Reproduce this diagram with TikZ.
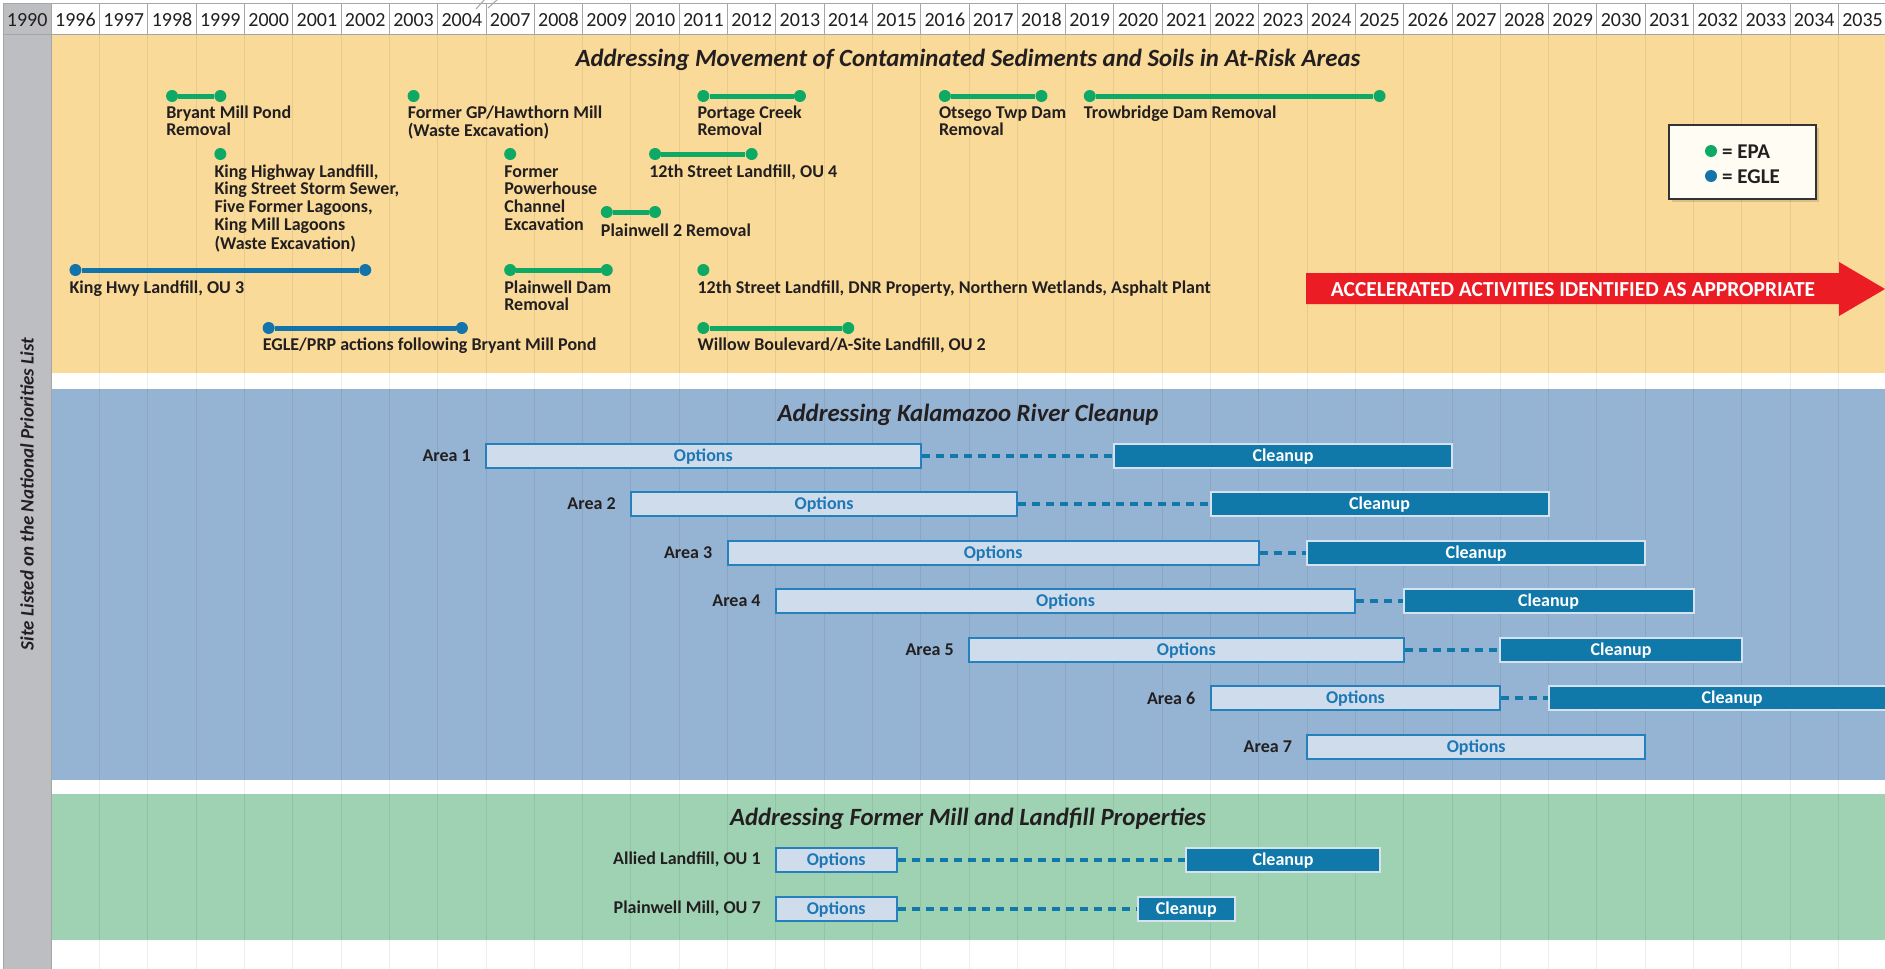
\documentclass[tikz,border=0pt]{standalone}
\usepackage{fontspec}
\setmainfont{Carlito}
\definecolor{yband}{HTML}{F9DA98}
\definecolor{bband}{HTML}{95B3D2}
\definecolor{gband}{HTML}{9ED2B3}
\definecolor{graycol}{HTML}{BDBEC2}
\definecolor{hdrline}{HTML}{A6A6A6}
\definecolor{epa}{HTML}{0EA965}
\definecolor{egle}{HTML}{1374AC}
\definecolor{optfill}{HTML}{CEDCEB}
\definecolor{optline}{HTML}{2580BE}
\definecolor{opttext}{HTML}{1F78B6}
\definecolor{clnfill}{HTML}{1178AA}
\definecolor{clnline}{HTML}{D6E2EE}
\definecolor{dashcol}{HTML}{1178AA}
\definecolor{arrowred}{HTML}{EC1C24}
\definecolor{ink}{HTML}{231F20}
\definecolor{legfill}{HTML}{FFFDF3}
\definecolor{legline}{HTML}{333333}
\newcommand\lblfont{\bfseries\fontsize{18}{17.3}\selectfont}
\newcommand\boxfont{\bfseries\fontsize{18}{18}\selectfont}
\newcommand\titlefont{\bfseries\itshape\fontsize{24.8}{26}\selectfont}
\newcommand\yearfont{\fontsize{20}{20}\selectfont}
\newcommand\vfont{\bfseries\itshape\fontsize{19}{19}\selectfont}
\newcommand\legfont{\bfseries\fontsize{21}{21}\selectfont}
\newcommand\arrfont{\bfseries\fontsize{21.4}{21.4}\selectfont}
\newcommand\ml[1]{\begin{tabular}[t]{@{}l@{}}#1\end{tabular}}
\newcommand\bbox[6]{%
  \pgfmathsetmacro\bx{3+48.3*((#3)+(#4))/2}%
  \pgfmathsetmacro\bw{48.3*((#4)-(#3))}%
  \node[#1, minimum width=\bw pt] (#2) at (\bx,#5) {#6};}
\tikzset{
  lbl/.style={font=\lblfont, text=ink, anchor=base west, inner sep=0pt, xshift=-6pt},
  dotepa/.style={circle, fill=epa, inner sep=0pt, minimum size=12pt},
  dotegle/.style={circle, fill=egle, inner sep=0pt, minimum size=12pt},
  lineepa/.style={draw=epa, line width=5pt},
  lineegle/.style={draw=egle, line width=5pt},
  optbox/.style={draw=optline, fill=optfill, line width=2pt, minimum height=24pt, inner sep=0pt, text=opttext, font=\boxfont, text height=11.5pt, text depth=0pt},
  clnbox/.style={draw=clnline, fill=clnfill, line width=2pt, minimum height=24pt, inner sep=0pt, text=white, font=\boxfont, text height=11.5pt, text depth=0pt},
  dashline/.style={draw=dashcol, line width=4pt, dash pattern=on 8pt off 6pt},
  arealbl/.style={font=\lblfont, text=ink, anchor=east, inner sep=0pt},
  bandtitle/.style={font=\titlefont, text=ink, anchor=base, inner sep=0pt},
  yearlbl/.style={font=\yearfont, text=ink, anchor=base, inner sep=0pt},
  legtext/.style={font=\legfont, text=ink, anchor=base west, inner sep=0pt},
  gridline/.style={draw=black, opacity=0.07, line width=1pt},
  cellline/.style={draw=hdrline, line width=1pt}
}
\begin{document}
\begin{tikzpicture}[x=1pt,y=-1pt, declare function={cx(\k)=3+48.3*\k;}]
\useasboundingbox (0,0) rectangle (1885,969);
\clip (0,0) rectangle (1885,969);
\fill[white] (0,0) rectangle (1885,969);
% bands
\fill[yband] (51.3,34) rectangle (1885,373);
\fill[bband] (51.3,389) rectangle (1885,780);
\fill[gband] (51.3,794) rectangle (1885,940);
% grid
\foreach \k in {2,...,38} \draw[gridline] ({cx(\k)},34) -- ({cx(\k)},969);
% gray column
\filldraw[fill=graycol, draw=hdrline, line width=1pt] (3,3) rectangle (51.3,969);
% header
\foreach \yr [count=\k from 0] in {1990,1996,1997,1998,1999,2000,2001,2002,2003,2004,2007,2008,2009,2010,2011,2012,2013,2014,2015,2016,2017,2018,2019,2020,2021,2022,2023,2024,2025,2026,2027,2028,2029,2030,2031,2032,2033,2034,2035} {
  \draw[cellline] ({cx(\k)},3) rectangle ({cx(\k+1)},34);
  \node[yearlbl] (h\k) at ({cx(\k+0.5)},27) {\yr};
}
\draw[cellline] (476,9) -- (485,-1);
\draw[cellline] (488,8) -- (498,-1);
% titles
\node[bandtitle] (t1) at (968,66) {Addressing Movement of Contaminated Sediments and Soils in At-Risk Areas};
\node[bandtitle] (t2) at (968,421) {Addressing Kalamazoo River Cleanup};
\node[bandtitle] (t3) at (968,825) {Addressing Former Mill and Landfill Properties};
\node[rotate=90, font=\vfont, text=ink, inner sep=0pt] (side) at (27,494) {Site Listed on the National Priorities List};
% ---- yellow band items
\node[dotepa] (a1) at ({cx(3.5)},96) {};
\node[dotepa] (a2) at ({cx(4.5)},96) {};
\draw[lineepa] (a1) -- (a2);
\node[lbl] (ta) at ({cx(3.5)},118) {\ml{Bryant Mill Pond\\Removal}};
\node[dotepa] (b1) at ({cx(8.5)},96) {};
\node[lbl] (tb) at ({cx(8.5)},118) {\ml{Former GP/Hawthorn Mill\\(Waste Excavation)}};
\node[dotepa] (c1d) at ({cx(14.5)},96) {};
\node[dotepa] (c2d) at ({cx(16.5)},96) {};
\draw[lineepa] (c1d) -- (c2d);
\node[lbl] (tc) at ({cx(14.5)},118) {\ml{Portage Creek\\Removal}};
\node[dotepa] (d1) at ({cx(19.5)},96) {};
\node[dotepa] (d2) at ({cx(21.5)},96) {};
\draw[lineepa] (d1) -- (d2);
\node[lbl] (td) at ({cx(19.5)},118) {\ml{Otsego Twp Dam\\Removal}};
\node[dotepa] (e1) at ({cx(22.5)},96) {};
\node[dotepa] (e2) at ({cx(28.5)},96) {};
\draw[lineepa] (e1) -- (e2);
\node[lbl] (te) at ({cx(22.5)},118) {\ml{Trowbridge Dam Removal}};
\node[dotepa] (f1) at ({cx(4.5)},154) {};
\node[lbl] (tf) at ({cx(4.5)},177) {\ml{King Highway Landfill,\\King Street Storm Sewer,\\Five Former Lagoons,\\King Mill Lagoons\\(Waste Excavation)}};
\node[dotepa] (g1) at ({cx(10.5)},154) {};
\node[lbl] (tg) at ({cx(10.5)},177) {\ml{Former\\Powerhouse\\Channel\\Excavation}};
\node[dotepa] (h1d) at ({cx(13.5)},154) {};
\node[dotepa] (h2d) at ({cx(15.5)},154) {};
\draw[lineepa] (h1d) -- (h2d);
\node[lbl] (th) at ({cx(13.5)},177) {\ml{12th Street Landfill, OU 4}};
\node[dotepa] (i1) at ({cx(12.5)},212) {};
\node[dotepa] (i2) at ({cx(13.5)},212) {};
\draw[lineepa] (i1) -- (i2);
\node[lbl] (ti) at ({cx(12.5)},236) {\ml{Plainwell 2 Removal}};
\node[dotegle] (j1) at ({cx(1.5)},270) {};
\node[dotegle] (j2) at ({cx(7.5)},270) {};
\draw[lineegle] (j1) -- (j2);
\node[lbl] (tj) at ({cx(1.5)},293) {\ml{King Hwy Landfill, OU 3}};
\node[dotepa] (k1) at ({cx(10.5)},270) {};
\node[dotepa] (k2) at ({cx(12.5)},270) {};
\draw[lineepa] (k1) -- (k2);
\node[lbl] (tk) at ({cx(10.5)},293) {\ml{Plainwell Dam\\Removal}};
\node[dotepa] (l1d) at ({cx(14.5)},270) {};
\node[lbl] (tl) at ({cx(14.5)},293) {\ml{12th Street Landfill, DNR Property, Northern Wetlands, Asphalt Plant}};
\node[dotegle] (m1) at ({cx(5.5)},328) {};
\node[dotegle] (m2) at ({cx(9.5)},328) {};
\draw[lineegle] (m1) -- (m2);
\node[lbl] (tm) at ({cx(5.5)},350) {\ml{EGLE/PRP actions following Bryant Mill Pond}};
\node[dotepa] (n1) at ({cx(14.5)},328) {};
\node[dotepa] (n2) at ({cx(17.5)},328) {};
\draw[lineepa] (n1) -- (n2);
\node[lbl] (tn) at ({cx(14.5)},350) {\ml{Willow Boulevard/A-Site Landfill, OU 2}};
% legend
\fill[black, opacity=0.12] (1672,128) rectangle (1819,202);
\node[draw=legline, fill=legfill, line width=1.3pt, minimum width=147pt, minimum height=74pt, inner sep=0pt] (legend) at (1742.5,162) {};
\node[dotepa] (le) at (1711,151) {};
\node[dotegle] (lg) at (1711,176) {};
\node[legtext] (lte) at (1722,158) {= EPA};
\node[legtext] (ltg) at (1722,183) {= EGLE};
% red arrow
\fill[arrowred] (1306,273) -- (1839,273) -- (1839,262) -- (1885,289) -- (1839,316) -- (1839,304) -- (1306,304) -- cycle;
\node[font=\arrfont, text=white, anchor=base, inner sep=0pt] (arrtxt) at (1573,296) {ACCELERATED ACTIVITIES IDENTIFIED AS APPROPRIATE};
% ---- blue band
\bbox{optbox}{o1}{10}{19}{455.5}{Options}
\bbox{clnbox}{q1}{23}{30}{455.5}{Cleanup}
\draw[dashline] (o1.east) -- (q1.west);
\node[arealbl] (r1) at ([xshift=-14pt]o1.west) {Area 1};
\bbox{optbox}{o2}{13}{21}{504}{Options}
\bbox{clnbox}{q2}{25}{32}{504}{Cleanup}
\draw[dashline] (o2.east) -- (q2.west);
\node[arealbl] (r2) at ([xshift=-14pt]o2.west) {Area 2};
\bbox{optbox}{o3}{15}{26}{552.5}{Options}
\bbox{clnbox}{q3}{27}{34}{552.5}{Cleanup}
\draw[dashline] (o3.east) -- (q3.west);
\node[arealbl] (r3) at ([xshift=-14pt]o3.west) {Area 3};
\bbox{optbox}{o4}{16}{28}{601}{Options}
\bbox{clnbox}{q4}{29}{35}{601}{Cleanup}
\draw[dashline] (o4.east) -- (q4.west);
\node[arealbl] (r4) at ([xshift=-14pt]o4.west) {Area 4};
\bbox{optbox}{o5}{20}{29}{649.5}{Options}
\bbox{clnbox}{q5}{31}{36}{649.5}{Cleanup}
\draw[dashline] (o5.east) -- (q5.west);
\node[arealbl] (r5) at ([xshift=-14pt]o5.west) {Area 5};
\bbox{optbox}{o6}{25}{31}{698}{Options}
\bbox{clnbox}{q6}{32}{39.6}{698}{Cleanup}
\draw[dashline] (o6.east) -- (q6.west);
\node[arealbl] (r6) at ([xshift=-14pt]o6.west) {Area 6};
\bbox{optbox}{o7}{27}{34}{746.5}{Options}
\node[arealbl] (r7) at ([xshift=-14pt]o7.west) {Area 7};
% ---- green band
\bbox{optbox}{o8}{16}{18.5}{859.5}{Options}
\bbox{clnbox}{q8}{24.5}{28.5}{859.5}{Cleanup}
\draw[dashline] (o8.east) -- (q8.west);
\node[arealbl] (r8) at ([xshift=-14pt]o8.west) {Allied Landfill, OU 1};
\bbox{optbox}{o9}{16}{18.5}{908.5}{Options}
\bbox{clnbox}{q9}{23.5}{25.5}{908.5}{Cleanup}
\draw[dashline] (o9.east) -- (q9.west);
\node[arealbl] (r9) at ([xshift=-14pt]o9.west) {Plainwell Mill, OU 7};
\end{tikzpicture}
\end{document}
